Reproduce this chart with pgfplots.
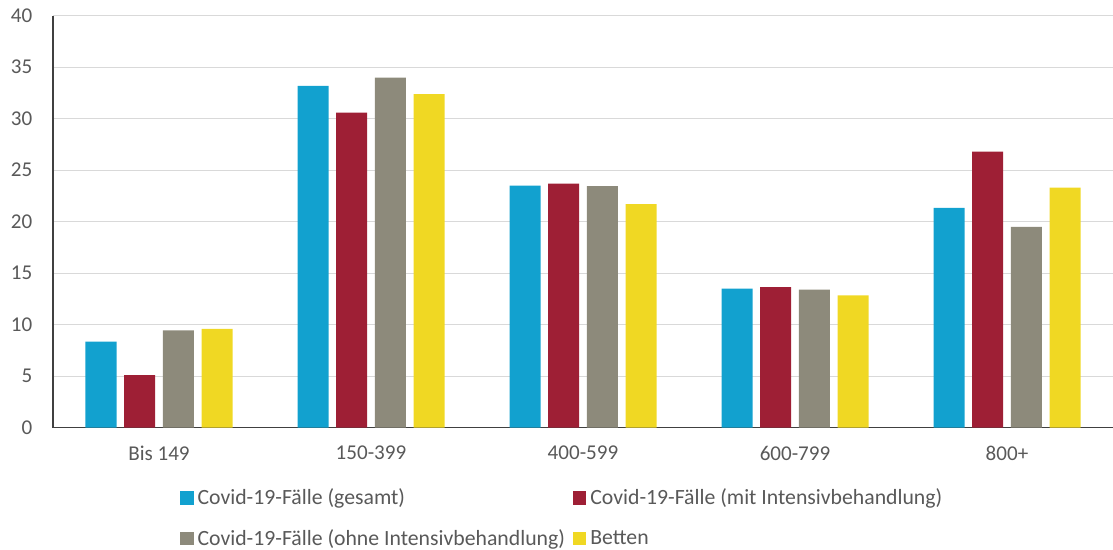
\documentclass[border=0pt]{standalone}
\usepackage{pgfplots}
\pgfplotsset{compat=1.18}
\usepackage{fontspec}
\setmainfont{Carlito}
\definecolor{cblue}{HTML}{12A1CF}
\definecolor{cred}{HTML}{9E1F35}
\definecolor{cgray}{HTML}{8D8A7B}
\definecolor{cyel}{HTML}{F0D823}
\definecolor{tick}{HTML}{595959}
\definecolor{gridc}{HTML}{D9D9D9}
\definecolor{axisc}{HTML}{404040}

\begin{document}
\begin{tikzpicture}[font=\fontsize{15.8}{18}\selectfont]
\useasboundingbox (-39.75pt,-91pt) rectangle (795pt,320.8pt);
\begin{axis}[
  scale only axis, width=795pt, height=309pt,
  ybar=5.75pt, bar width=23.25pt,
  xmin=-0.5, xmax=4.5, ymin=0, ymax=40,
  xtick=data, xticklabels={Bis 149,150-399,400-599,600-799,800+},
  ytick={0,5,...,40},
  axis x line=bottom, axis y line=left,
  axis line style={axisc, line width=1pt, -},
  major tick length=0pt,
  ymajorgrids, grid style={gridc, line width=0.8pt},
  tick label style={text=tick},
  /pgf/number format/assume math mode=true,
  yticklabel style={xshift=-12pt},
  xticklabel style={yshift=-10pt},
  legend columns=2,
  legend cell align=left,
  legend style={draw=none, at={(0.116,-0.135)}, anchor=north west, text=tick,
    font=\fontsize{16.3}{18}\selectfont,
    nodes={inner xsep=3pt},
    /tikz/every even column/.append style={column sep=3pt},
    row sep=13pt},
  legend image code/.code={\fill[#1] (0pt,-5pt) rectangle (10pt,5pt);},
]
\addplot[fill=cblue, draw=none] coordinates {(0,8.35)(1,33.2)(2,23.5)(3,13.5)(4,21.35)};
\addlegendentry{Covid-19-Fälle (gesamt)}
\addplot[fill=cred, draw=none] coordinates {(0,5.1)(1,30.6)(2,23.7)(3,13.65)(4,26.8)};
\addlegendentry{Covid-19-Fälle (mit Intensivbehandlung)}
\addplot[fill=cgray, draw=none] coordinates {(0,9.45)(1,34.0)(2,23.45)(3,13.4)(4,19.5)};
\addlegendentry{Covid-19-Fälle (ohne Intensivbehandlung)}
\addplot[fill=cyel, draw=none] coordinates {(0,9.6)(1,32.4)(2,21.7)(3,12.85)(4,23.3)};
\addlegendentry{Betten}
\end{axis}
\end{tikzpicture}
\end{document}
